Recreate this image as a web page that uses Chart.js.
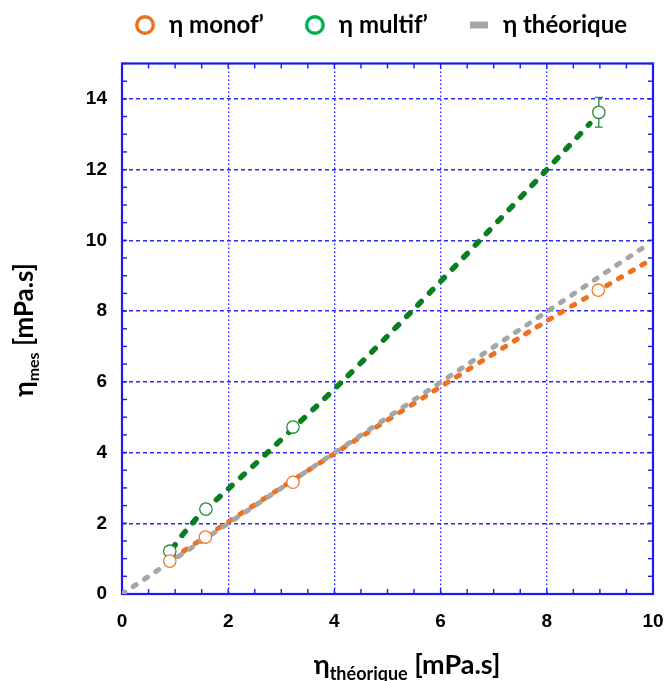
<!DOCTYPE html>
<html><head><meta charset="utf-8">
<script src="https://cdn.jsdelivr.net/npm/chart.js@4/dist/chart.umd.min.js"></script>
<style>html,body{margin:0;padding:0;background:#fff}#wrap{width:664px;height:681px;position:relative}</style>
</head><body><div id="wrap"><canvas id="c" width="664" height="681"></canvas></div>
<script>
// ---- data ----
const monofX = [0.90, 1.57, 3.22, 8.97];
const monofY = [0.93, 1.61, 3.16, 8.59];
const multifX = [0.90, 1.58, 3.22, 8.98];
const multifY = [1.21, 2.40, 4.72, 13.62];
const multifErr = [0, 0, 0, 0.42];
const theoX = [0, 9.9];
const theoY = [0, 9.88];
const monofFitX = [0.95, 1.4, 2.0, 4.0, 6.0, 8.0, 9.9];
const monofFitY = [1.00, 1.45, 2.04, 3.97, 5.86, 7.72, 9.40];
const multifFitX = [0.95, 1.10, 1.28, 1.46, 2.00, 2.74, 4.14, 5.46, 6.74, 8.00, 8.81];
const multifFitY = [1.28, 1.60, 1.92, 2.23, 2.97, 4.00, 6.00, 8.00, 10.00, 12.00, 13.30];
const xTicks = [0, 2, 4, 6, 8, 10];
const yTicks = [0, 2, 4, 6, 8, 10, 12, 14];
const legendLabels = ['η monof’', 'η multif’', 'η théorique'];
const xTitleParts = ['η', 'théorique', ' [mPa.s]'];
const yTitleParts = ['η', 'mes', ' [mPa.s]'];

const C = {
  orange: '#F07020', orangeMk: '#F07A2C', orangeLeg: '#E8731A',
  green: '#0B7F1F', greenMk: '#2A8A38', greenLeg: '#00B050',
  gray: '#A6A6A6', blue: '#1A1AF5', grid: '#2A2AFF'
};

function pts(xs, ys) { return xs.map((x, i) => ({x: x, y: ys[i]})); }

function mkCircle(color) {
  const c = document.createElement('canvas'); c.width = 24; c.height = 24;
  const g = c.getContext('2d');
  g.lineWidth = 3.4; g.strokeStyle = color; g.fillStyle = '#fff';
  g.beginPath(); g.arc(12, 12, 8.3, 0, Math.PI * 2); g.fill(); g.stroke();
  return c;
}
function mkRect(color) {
  const c = document.createElement('canvas'); c.width = 18; c.height = 8;
  const g = c.getContext('2d'); g.fillStyle = color; g.fillRect(0, 0.5, 18, 7);
  return c;
}
const legendMarkers = [mkCircle(C.orangeLeg), mkCircle(C.greenLeg), mkRect(C.gray)];

const legendPos = {
  id: 'legendPos',
  beforeInit(chart) {
    const orig = chart.legend.fit;
    chart.legend.fit = function () { orig.call(this); this.height = 63.5; };
  },
  afterLayout(chart) {
    const lg = chart.legend;
    lg.left = 94; lg.right = 1200; lg.width = lg.right - lg.left;
    lg.top = -26; lg.bottom = lg.top + 63.5;
  }
};

function tickLines(ctx, scale, a, orient, len) {
  for (let v = scale.min; v <= scale.max + 1e-9; v += 0.5) {
    const p = scale.getPixelForValue(v);
    ctx.beginPath();
    if (orient === 'bottom') { ctx.moveTo(p, a.bottom); ctx.lineTo(p, a.bottom - len); }
    if (orient === 'top') { ctx.moveTo(p, a.top); ctx.lineTo(p, a.top + len); }
    if (orient === 'left') { ctx.moveTo(a.left, p); ctx.lineTo(a.left + len, p); }
    if (orient === 'right') { ctx.moveTo(a.right, p); ctx.lineTo(a.right - len, p); }
    ctx.stroke();
  }
}

const frame = {
  id: 'frame',
  beforeDatasetsDraw(chart) {
    const ctx = chart.ctx, a = chart.chartArea;
    const xs = chart.scales.x, ys = chart.scales.y;
    ctx.save();
    ctx.strokeStyle = C.blue; ctx.lineWidth = 1.4;
    tickLines(ctx, xs, a, 'bottom', 5);
    tickLines(ctx, xs, a, 'top', 5);
    tickLines(ctx, ys, a, 'left', 5);
    tickLines(ctx, ys, a, 'right', 5);
    ctx.lineWidth = 2.2;
    ctx.strokeRect(a.left, a.top, a.right - a.left, a.bottom - a.top);
    ctx.restore();
  }
};

const errorBars = {
  id: 'errorBars',
  beforeDatasetDraw(chart, args) {
    if (args.index !== 1) return;
    const ctx = chart.ctx, xs = chart.scales.x, ys = chart.scales.y;
    ctx.save(); ctx.strokeStyle = C.greenMk; ctx.lineWidth = 1.3;
    multifX.forEach((x, i) => {
      const e = multifErr[i]; if (!e) return;
      const px = xs.getPixelForValue(x);
      const y1 = ys.getPixelForValue(multifY[i] + e), y2 = ys.getPixelForValue(multifY[i] - e);
      ctx.beginPath();
      ctx.moveTo(px, y1); ctx.lineTo(px, y2);
      ctx.moveTo(px - 4, y1); ctx.lineTo(px + 4, y1);
      ctx.moveTo(px - 4, y2); ctx.lineTo(px + 4, y2);
      ctx.stroke();
    });
    ctx.restore();
  }
};

function drawTitle(ctx, parts, mainSize, subSize, subDrop) {
  const mf = 'bold ' + mainSize + 'px Lato', sf = 'bold ' + subSize + 'px Lato';
  ctx.font = mf; const w0 = ctx.measureText(parts[0]).width, w2 = ctx.measureText(parts[2]).width;
  ctx.font = sf; const w1 = ctx.measureText(parts[1]).width;
  let x = -(w0 + w1 + w2) / 2;
  ctx.textBaseline = 'alphabetic'; ctx.textAlign = 'left'; ctx.fillStyle = '#000';
  ctx.font = mf; ctx.fillText(parts[0], x, 0); x += w0;
  ctx.font = sf; ctx.fillText(parts[1], x, subDrop); x += w1;
  ctx.font = mf; ctx.fillText(parts[2], x, 0);
}

const titles = {
  id: 'titles',
  afterDraw(chart) {
    const ctx = chart.ctx;
    ctx.save(); ctx.translate(407, 674); drawTitle(ctx, xTitleParts, 27, 18, 6); ctx.restore();
    ctx.save(); ctx.translate(33, 330); ctx.rotate(-Math.PI / 2); drawTitle(ctx, yTitleParts, 26, 16, 6); ctx.restore();
  }
};

const tickFont = {family: 'Liberation Sans', size: 19, weight: 'bold'};

new Chart(document.getElementById('c'), {
  type: 'scatter',
  data: {
    datasets: [
      {label: legendLabels[0], data: pts(monofX, monofY), pointStyle: 'circle', pointRadius: 6.2,
       borderColor: C.orangeMk, backgroundColor: '#fff', borderWidth: 1.3, showLine: false},
      {label: legendLabels[1], data: pts(multifX, multifY), pointStyle: 'circle', pointRadius: 6.2,
       borderColor: C.greenMk, backgroundColor: '#fff', borderWidth: 1.3, showLine: false},
      {label: legendLabels[2], data: pts(theoX, theoY), showLine: true, pointRadius: 0,
       borderColor: C.gray, borderWidth: 5, borderDash: [3.5, 10], borderCapStyle: 'round'},
      {label: 'fit monof', data: pts(monofFitX, monofFitY), showLine: true, pointRadius: 0,
       borderColor: C.orange, borderWidth: 5, borderDash: [3.5, 10], borderCapStyle: 'round', tension: 0.2},
      {label: 'fit multif', data: pts(multifFitX, multifFitY), showLine: true, pointRadius: 0,
       borderColor: C.green, borderWidth: 5.5, borderDash: [5, 11.5], borderCapStyle: 'round', tension: 0.3}
    ]
  },
  options: {
    responsive: false, animation: false, devicePixelRatio: 1,
    layout: {padding: {left: 0, right: 11, top: 0, bottom: 0}},
    plugins: {
      tooltip: {enabled: false},
      legend: {
        position: 'top', align: 'start',
        labels: {
          usePointStyle: true, pointStyleWidth: 24, padding: 39, color: '#000',
          font: {family: 'Lato', size: 24, weight: 'bold'},
          generateLabels: () => legendLabels.map((t, i) => ({
            text: t, pointStyle: legendMarkers[i], datasetIndex: i, hidden: false,
            fontColor: '#000', lineWidth: 0, strokeStyle: 'rgba(0,0,0,0)', fillStyle: 'rgba(0,0,0,0)'
          }))
        }
      }
    },
    scales: {
      x: {
        type: 'linear', min: 0, max: 10,
        afterFit(s) { s.height = 87; s.paddingLeft = 0; s.paddingRight = 0; },
        afterBuildTicks(s) { s.ticks = xTicks.map(v => ({value: v})); },
        ticks: {font: tickFont, color: '#000', padding: 16, maxRotation: 0},
        grid: {color: C.grid, lineWidth: 1.4, drawTicks: false},
        border: {display: false, dash: [1.6, 2.4]}
      },
      y: {
        type: 'linear', min: 0, max: 15,
        afterFit(s) { s.width = 122; },
        afterBuildTicks(s) { s.ticks = yTicks.map(v => ({value: v})); },
        ticks: {font: tickFont, color: '#000', padding: 15},
        grid: {color: C.grid, lineWidth: 1.4, drawTicks: false},
        border: {display: false, dash: [4, 3]}
      }
    }
  },
  plugins: [legendPos, frame, errorBars, titles]
});
</script></body></html>
